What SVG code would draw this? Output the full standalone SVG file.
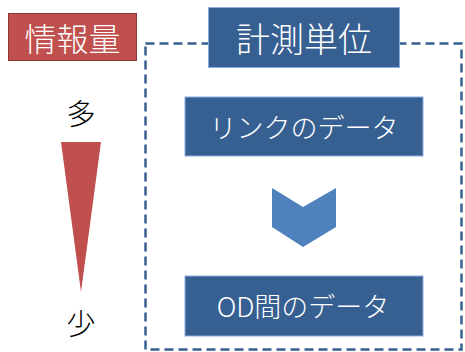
<svg xmlns="http://www.w3.org/2000/svg" width="465" height="352" viewBox="0 0 465 352">
<style>
.lbl{font-family:"Noto Sans CJK JP","Noto Sans",sans-serif;font-weight:300;fill:#ffffff;text-anchor:middle;dominant-baseline:central}
.dark{font-family:"Noto Sans CJK JP","Noto Sans",sans-serif;font-weight:300;fill:#000000;text-anchor:middle;dominant-baseline:central}
.blue{fill:#376092;stroke:#8eaadb;stroke-width:1}
</style>
<rect width="465" height="352" fill="#ffffff"/>
<g id="connectors">
<rect x="145.5" y="43.5" width="316" height="306" fill="none" stroke="#376092" stroke-width="2.5" stroke-dasharray="9,5"/>
</g>
<g id="info">
<rect x="8.5" y="13.5" width="128" height="47" fill="#c0504d" stroke="#8c3836" stroke-width="1"/>
<text class="lbl" x="72.5" y="37" font-size="32">情報量</text>
</g>
<g id="unit">
<rect x="208.5" y="7.5" width="191" height="60" class="blue"/>
<text class="lbl" x="304" y="37" font-size="34">計測単位</text>
</g>
<g id="many"><text class="dark" x="81" y="112" font-size="29">多</text></g>
<g id="triangle"><polygon points="61,142 101,142 81,292" fill="#c0504d"/></g>
<g id="few"><text class="dark" x="81" y="322" font-size="29">少</text></g>
<g id="link">
<rect x="185" y="97" width="238" height="59" class="blue"/>
<text class="lbl" x="304" y="126" font-size="27">リンクのデータ</text>
</g>
<g id="chevron"><polygon points="272,188 303,207 336,188 336,227 303,247 272,227" fill="#4f81bd"/></g>
<g id="od">
<rect x="185" y="276" width="238" height="60" class="blue"/>
<text class="lbl" x="303" y="305" font-size="27">OD間のデータ</text>
</g>
</svg>
